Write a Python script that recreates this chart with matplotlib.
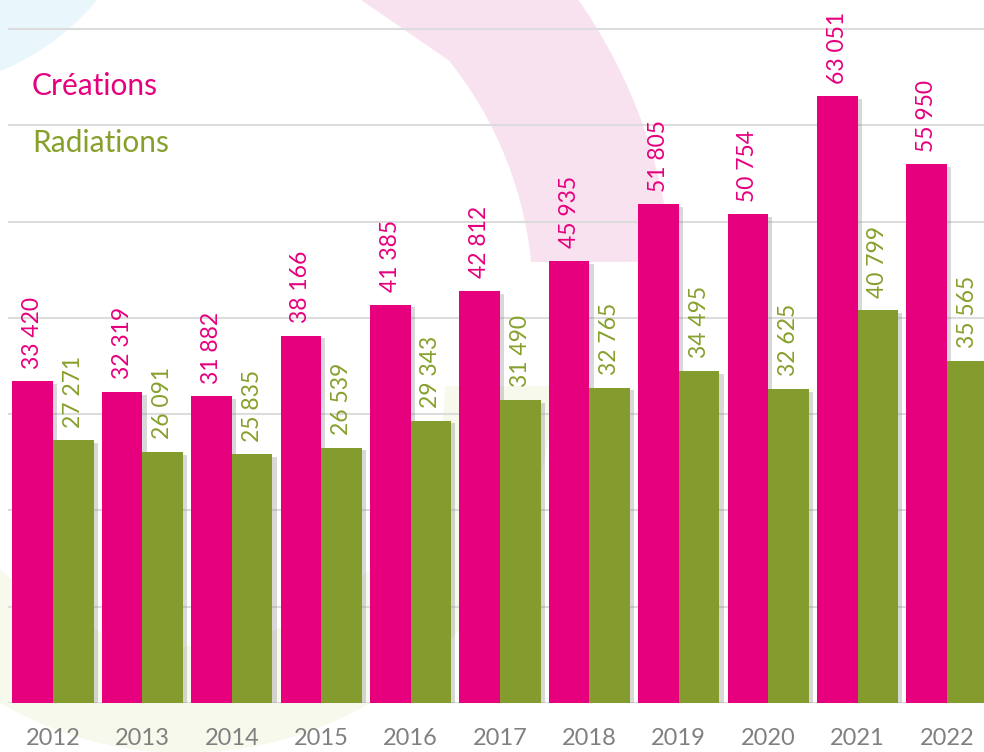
import numpy as np
import matplotlib.pyplot as plt
from matplotlib.patches import Circle, Polygon
import matplotlib.patheffects as pe

plt.rcParams['font.family'] = ['Lato', 'DejaVu Sans']

years = ['2012', '2013', '2014', '2015', '2016', '2017', '2018', '2019', '2020', '2021', '2022']
creations = [33420, 32319, 31882, 38166, 41385, 42812, 45935, 51805, 50754, 63051, 55950]
radiations = [27271, 26091, 25835, 26539, 29343, 31490, 32765, 34495, 32625, 40799, 35565]
grid_vals = [0, 10000, 20000, 30000, 40000, 50000, 60000, 70000]

PINK = '#E6007E'
GREEN = '#849B2E'
GREEN_TXT = '#86A02C'


def ring_poly(cx, cy, r_in, r_out, t0, t1, n=200):
    # ring section in pixel coords (y down), angles in degrees (math direction)
    t = np.radians(np.linspace(t0, t1, n))
    outer = np.c_[cx + r_out * np.cos(t), cy - r_out * np.sin(t)]
    inner = np.c_[cx + r_in * np.cos(t[::-1]), cy - r_in * np.sin(t[::-1])]
    return np.vstack([outer, inner])


if __name__ == '__main__':
    fig = plt.figure(figsize=(9.84, 7.52), dpi=100)

    # decorative background shapes
    bg = fig.add_axes([0, 0, 1, 1], zorder=0)
    bg.set_xlim(0, 984)
    bg.set_ylim(752, 0)
    bg.axis('off')
    bg.add_patch(Circle((-95, -160), 250, color='#E9F6FB', lw=0))
    bg.add_patch(Polygon(ring_poly(185, 386, 260, 367, 180, 360), closed=True,
                         color='#F6F9EC', lw=0))
    t_out = np.radians(np.linspace(4.2, 100.9, 200))
    t_in = np.radians(np.linspace(38.7, 5.7, 200))
    band = np.vstack([np.c_[150 + 523 * np.cos(t_out), 300 - 523 * np.sin(t_out)],
                      np.c_[150 + 383 * np.cos(t_in), 300 - 383 * np.sin(t_in)]])
    bg.add_patch(Polygon(band, closed=True, color='#F9E2EF', lw=0))

    ax = fig.add_axes([0, 49 / 752, 1, 703 / 752], zorder=1)
    ax.set_facecolor('none')
    x = np.arange(len(years))
    w = 0.455

    ax.hlines(grid_vals, -0.5, 10.6, color='#DCDCDC', lw=1.5, zorder=0)

    shadow = [pe.SimplePatchShadow(offset=(3, -2), shadow_rgbFace='#808080', alpha=0.3), pe.Normal()]
    b1 = ax.bar(x - w / 2, creations, w, color=PINK, zorder=2)
    b2 = ax.bar(x + w / 2, radiations, w, color=GREEN, zorder=2)
    for b in list(b1) + list(b2):
        b.set_path_effects(shadow)

    for xi, v in zip(x - w / 2, creations):
        ax.annotate(f'{v:,}'.replace(',', ' '), (xi, v), xytext=(0, 9), textcoords='offset points',
                    rotation=90, ha='center', va='bottom', color=PINK, fontsize=16.5)
    for xi, v in zip(x + w / 2, radiations):
        ax.annotate(f'{v:,}'.replace(',', ' '), (xi, v), xytext=(0, 9), textcoords='offset points',
                    rotation=90, ha='center', va='bottom', color=GREEN_TXT, fontsize=16.5)

    ax.set_xlim(-0.593, 10.414)
    ax.set_ylim(0, 73024)
    ax.set_xticks(x)
    ax.set_xticklabels(years, fontsize=17, color='#808080')
    ax.tick_params(axis='x', length=0, pad=18)
    ax.set_yticks([])
    for s in ax.spines.values():
        s.set_visible(False)

    fig.text(32 / 984, 1 - 86 / 752, 'Créations', color=PINK, fontsize=21.5, va='center', ha='left')
    fig.text(32 / 984, 1 - 143 / 752, 'Radiations', color=GREEN_TXT, fontsize=21.5, va='center', ha='left')

    plt.savefig('out.png')
